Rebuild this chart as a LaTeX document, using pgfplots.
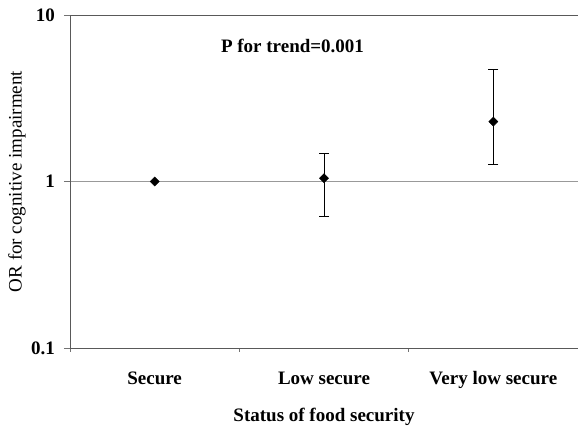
\documentclass[border=0pt]{standalone}
\usepackage{fontspec}
\setmainfont{Liberation Serif}
\usepackage{pgfplots}
\pgfplotsset{compat=1.18}
\newcommand{\lblfont}{\fontsize{19bp}{23bp}\selectfont}
\begin{document}
\begin{tikzpicture}
\path[use as bounding box] (-70bp,-79bp) rectangle (508bp,348bp);
\begin{axis}[
  name=ax,
  at={(0,0)}, anchor=south west,
  width=508bp, height=333bp, scale only axis,
  xmin=-0.5, xmax=2.5,
  ymode=log, ymin=0.1, ymax=10,
  axis lines*=left,
  axis line style={-, draw=black!65, line width=0.8bp},
  tick align=outside,
  major tick length=6bp,
  tick style={draw=black!55, line width=0.8bp},
  xtick={-0.5,0.5,1.5,2.5},
  xticklabels={,,,},
  xtick style={/pgfplots/major tick length=4bp},
  extra x ticks={0,1,2},
  extra x tick labels={Secure, Low secure, Very low secure},
  extra x tick style={/pgfplots/major tick length=0bp, tick style={draw=none}, grid=none,
     xticklabel style={anchor=base, yshift=-36bp}},
  ytick={0.1,1},
  yticklabels={0.1,1},
  extra y ticks={10}, extra y tick labels={10},
  extra y tick style={major grid style={draw=black!65, line width=0.8bp}},
  ymajorgrids,
  major grid style={draw=black!40, line width=0.8bp},
  yminorticks=false,
  yticklabel style={anchor=east, inner sep=0pt, xshift=-9bp},
  tick label style={font=\lblfont\bfseries},
  ylabel={OR for cognitive impairment},
  ylabel style={font=\lblfont, at={(axis description cs:-0.1043,0.5)}, anchor=center},
  xlabel={Status of food security},
  xlabel style={font=\lblfont\bfseries, at={(axis description cs:0.5,-0.2222)}, anchor=base},
]
% error bars (lower to upper CI)
\addplot[black, line width=1bp, mark=-, mark size=5bp, mark options={line width=1bp}]
  coordinates {(1,0.614) (1,1.47)};
\addplot[black, line width=1bp, mark=-, mark size=5bp, mark options={line width=1bp}]
  coordinates {(2,1.257) (2,4.68)};
% point estimates
\addplot[black, only marks, mark=square*, mark size=3.2bp,
  mark options={rotate=45, fill=black, draw=black, line width=0.5bp}]
  coordinates {(0,1) (1,1.047) (2,2.29)};
\node[font=\lblfont\bfseries, anchor=base] at (axis description cs:0.438,0.886) {P for trend=0.001};
\end{axis}
\end{tikzpicture}
\end{document}
